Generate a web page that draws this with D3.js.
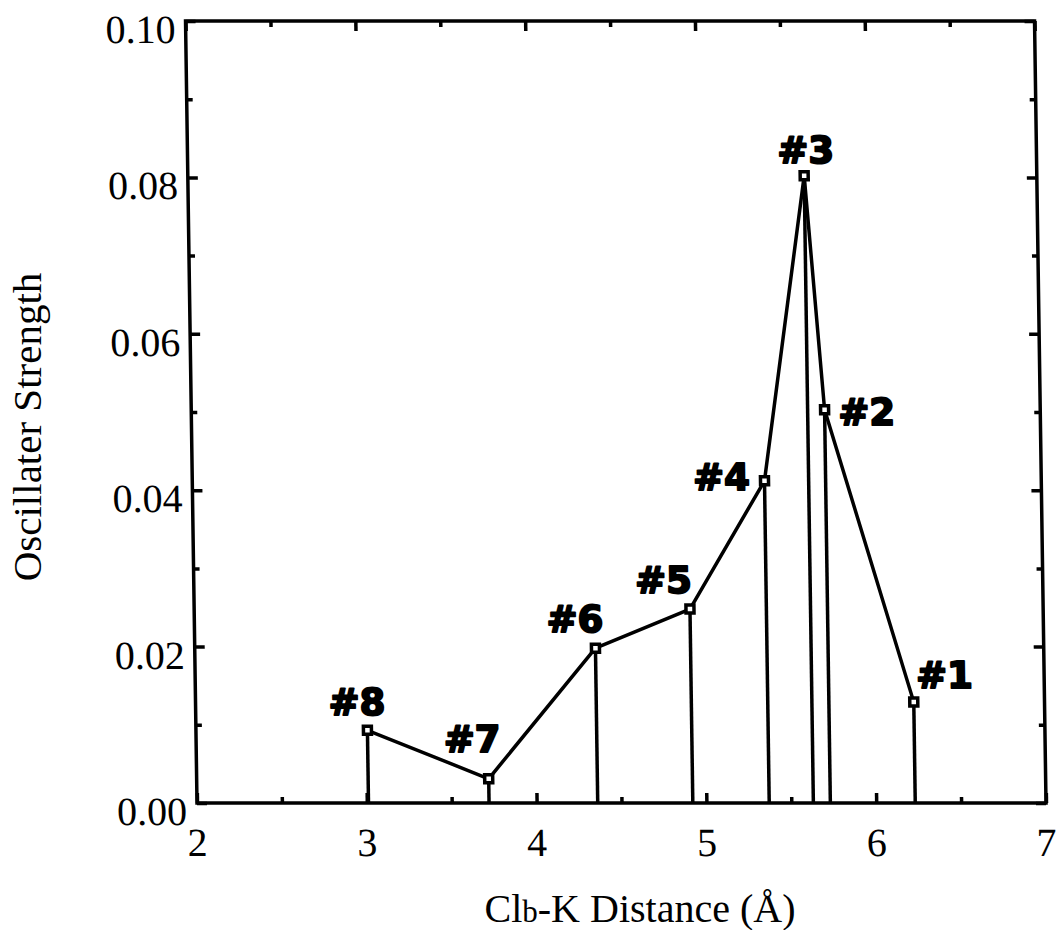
<!DOCTYPE html>
<html>
<head>
<meta charset="utf-8">
<script src="https://cdn.jsdelivr.net/npm/d3@7"></script>
<style>
  html, body { margin: 0; padding: 0; background: #fff; }
  svg { display: block; }
</style>
</head>
<body>
<div id="chart"></div>
<script>
// Computed transitions: Cl(b)-K distance (Å) vs oscillator strength
const labels    = ["#8", "#7", "#6", "#5", "#4", "#3", "#2", "#1"];
const distances = [3.01, 3.72, 4.36, 4.92, 5.37, 5.63, 5.73, 6.23];
const strengths = [0.0093, 0.0031, 0.0198, 0.0248, 0.0412, 0.0802, 0.0503, 0.0129];

const xTicks = [2, 3, 4, 5, 6, 7];
const xMinorTicks = [2.5, 3.5, 4.5, 5.5, 6.5];
const yTicks = [0, 0.02, 0.04, 0.06, 0.08, 0.10];
const yMinorTicks = [0.01, 0.03, 0.05, 0.07, 0.09];

const W = 1056, H = 930;
const plotLeft = 197, plotRight = 1046, plotTop = 21, plotBottom = 803;
const lean = 0.84; // degrees of lean in the scanned frame

const x = d3.scaleLinear().domain([2, 7]).range([plotLeft, plotRight]);
const y = d3.scaleLinear().domain([0, 0.10]).range([plotBottom, plotTop]);

const svg = d3.select("#chart").append("svg")
  .attr("width", W).attr("height", H);

const serif = "'Liberation Serif', 'Times New Roman', serif";
const ink = "#000";

// plot group, sheared about the baseline
const g = svg.append("g")
  .attr("transform", `translate(0,${plotBottom}) skewX(${lean}) translate(0,${-plotBottom})`);

// frame
g.append("rect")
  .attr("x", plotLeft).attr("y", plotTop)
  .attr("width", plotRight - plotLeft).attr("height", plotBottom - plotTop)
  .attr("fill", "none").attr("stroke", ink).attr("stroke-width", 3.5);

function styleAxis(sel) {
  sel.select(".domain").remove();
  sel.selectAll(".tick line").attr("stroke", ink).attr("stroke-width", 3.5);
}

// major + minor ticks, all pointing inward
g.append("g").attr("transform", `translate(0,${plotBottom})`)
  .call(d3.axisBottom(x).tickValues(xTicks).tickSize(-10).tickFormat(""))
  .call(styleAxis);
g.append("g").attr("transform", `translate(0,${plotBottom})`)
  .call(d3.axisBottom(x).tickValues(xMinorTicks).tickSize(-6).tickFormat(""))
  .call(styleAxis);
g.append("g").attr("transform", `translate(0,${plotTop})`)
  .call(d3.axisTop(x).tickValues(xTicks).tickSize(-10).tickFormat(""))
  .call(styleAxis);
g.append("g").attr("transform", `translate(0,${plotTop})`)
  .call(d3.axisTop(x).tickValues(xMinorTicks).tickSize(-6).tickFormat(""))
  .call(styleAxis);
g.append("g").attr("transform", `translate(${plotLeft},0)`)
  .call(d3.axisLeft(y).tickValues(yTicks).tickSize(-10).tickFormat(""))
  .call(styleAxis);
g.append("g").attr("transform", `translate(${plotLeft},0)`)
  .call(d3.axisLeft(y).tickValues(yMinorTicks).tickSize(-6).tickFormat(""))
  .call(styleAxis);
g.append("g").attr("transform", `translate(${plotRight},0)`)
  .call(d3.axisRight(y).tickValues(yTicks).tickSize(-10).tickFormat(""))
  .call(styleAxis);
g.append("g").attr("transform", `translate(${plotRight},0)`)
  .call(d3.axisRight(y).tickValues(yMinorTicks).tickSize(-6).tickFormat(""))
  .call(styleAxis);

// tick labels
g.selectAll(".xlab").data(xTicks).enter().append("text")
  .attr("x", d => x(d)).attr("y", plotBottom + 53)
  .attr("text-anchor", "middle")
  .attr("font-family", serif).attr("font-size", 40)
  .text(d => d);

g.selectAll(".ylab").data(yTicks).enter().append("text")
  .attr("x", plotLeft - 10).attr("y", d => y(d) + 22)
  .attr("text-anchor", "end")
  .attr("font-family", serif).attr("font-size", 40)
  .text(d => d.toFixed(2));

const pts = distances.map((d, i) => ({ d, f: strengths[i], label: labels[i] }));

// stick lines
g.selectAll(".stick").data(pts).enter().append("line")
  .attr("x1", p => x(p.d)).attr("x2", p => x(p.d))
  .attr("y1", p => y(p.f)).attr("y2", y(0))
  .attr("stroke", ink).attr("stroke-width", 3.5);

// connecting line
g.append("path").datum(pts)
  .attr("fill", "none").attr("stroke", ink).attr("stroke-width", 3.5)
  .attr("stroke-linejoin", "round")
  .attr("d", d3.line().x(p => x(p.d)).y(p => y(p.f)));

// square markers
g.selectAll(".mk").data(pts).enter().append("rect")
  .attr("x", p => x(p.d) - 4).attr("y", p => y(p.f) - 4)
  .attr("width", 8).attr("height", 8)
  .attr("fill", "#fff").attr("stroke", ink).attr("stroke-width", 3.5);

// transition labels, placed next to their markers
const labelPlace = {
  "#8": [-10, -15], "#7": [-16, -27], "#6": [-20, -16], "#5": [-26, -16],
  "#4": [-43, 9],   "#3": [2, -13],   "#2": [42, 15],   "#1": [31, -14]
};
g.selectAll(".plab").data(pts).enter().append("text")
  .attr("x", p => x(p.d) + labelPlace[p.label][0])
  .attr("y", p => y(p.f) + labelPlace[p.label][1])
  .attr("text-anchor", "middle")
  .attr("font-family", "'DejaVu Sans', sans-serif")
  .attr("font-weight", "bold").attr("font-size", 37)
  .attr("stroke", ink).attr("stroke-width", 2)
  .attr("stroke-linejoin", "round")
  .text(p => p.label);

// axis titles
const xt = svg.append("text")
  .attr("x", 640).attr("y", 922)
  .attr("text-anchor", "middle")
  .attr("font-family", serif).attr("font-size", 40);
xt.append("tspan").text("Cl");
xt.append("tspan").attr("font-size", 31).text("b");
xt.append("tspan").text("-K Distance (Å)");

svg.append("text")
  .attr("transform", "translate(41,427) rotate(-90)")
  .attr("text-anchor", "middle")
  .attr("font-family", serif).attr("font-size", 41)
  .text("Oscillater Strength");
</script>
</body>
</html>
